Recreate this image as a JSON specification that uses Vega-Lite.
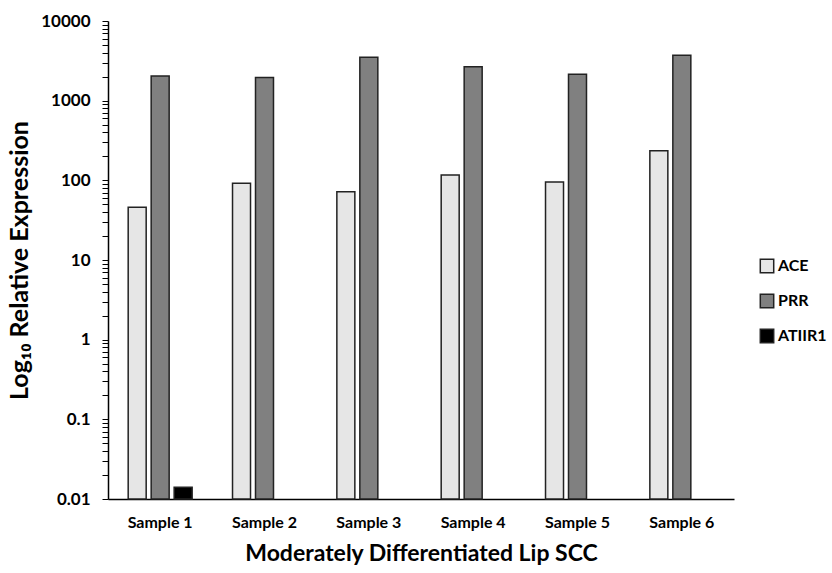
{
  "$schema": "https://vega.github.io/schema/vega-lite/v6.json",
  "width": 626,
  "height": 478,
  "autosize": {"type": "none"},
  "padding": {"left": 108, "top": 21, "right": 98, "bottom": 74},
  "background": "white",
  "config": {"view": {"stroke": null}, "font": "Lato"},
  "data": {
    "values": [
      {"sample": "Sample 1", "gene": "ACE", "value": 46},
      {"sample": "Sample 1", "gene": "PRR", "value": 2040},
      {"sample": "Sample 1", "gene": "ATIIR1", "value": 0.014},
      {"sample": "Sample 2", "gene": "ACE", "value": 92},
      {"sample": "Sample 2", "gene": "PRR", "value": 1950},
      {"sample": "Sample 3", "gene": "ACE", "value": 72},
      {"sample": "Sample 3", "gene": "PRR", "value": 3500},
      {"sample": "Sample 4", "gene": "ACE", "value": 117},
      {"sample": "Sample 4", "gene": "PRR", "value": 2670},
      {"sample": "Sample 5", "gene": "ACE", "value": 95},
      {"sample": "Sample 5", "gene": "PRR", "value": 2150},
      {"sample": "Sample 6", "gene": "ACE", "value": 235},
      {"sample": "Sample 6", "gene": "PRR", "value": 3720}
    ]
  },
  "mark": {"type": "bar", "stroke": "#222222", "strokeWidth": 1.5},
  "encoding": {
    "x": {
      "field": "sample",
      "type": "nominal",
      "scale": {"paddingInner": 0.387, "paddingOuter": 0.1935},
      "axis": {
        "title": "Moderately Differentiated Lip SCC",
        "titleFontSize": 23,
        "titleFontWeight": "bold",
        "titleColor": "#000000",
        "titlePadding": 12,
        "labelAngle": 0,
        "labelFontSize": 16,
        "labelFontWeight": "bold",
        "labelColor": "#000000",
        "labelPadding": 15,
        "ticks": false,
        "domainColor": "#000000",
        "domainWidth": 1.5
      }
    },
    "xOffset": {
      "field": "gene",
      "type": "nominal",
      "scale": {"domain": ["ACE", "PRR", "ATIIR1"], "paddingInner": 0.217, "paddingOuter": 0}
    },
    "y": {
      "field": "value",
      "type": "quantitative",
      "scale": {"type": "log", "domain": [0.01, 10000], "nice": false},
      "axis": {
        "title": "Log₁₀ Relative Expression",
        "titleFontSize": 25,
        "titleFontWeight": "bold",
        "titleColor": "#000000",
        "titlePadding": 8,
        "values": [0.01,0.02,0.03,0.04,0.05,0.06,0.07,0.08,0.09,0.1,0.2,0.3,0.4,0.5,0.6,0.7,0.8,0.9,1,2,3,4,5,6,7,8,9,10,20,30,40,50,60,70,80,90,100,200,300,400,500,600,700,800,900,1000,2000,3000,4000,5000,6000,7000,8000,9000,10000],
        "labelExpr": "indexof([0.01,0.1,1,10,100,1000,10000], datum.value) >= 0 ? '' + datum.value : ''",
        "labelFontSize": 17,
        "labelFontWeight": "bold",
        "labelColor": "#000000",
        "labelPadding": 12,
        "labelOverlap": false,
        "tickSize": 6,
        "tickColor": "#000000",
        "domainColor": "#000000",
        "domainWidth": 1.5,
        "grid": false
      }
    },
    "y2": {"datum": 0.01},
    "fill": {
      "field": "gene",
      "type": "nominal",
      "scale": {"domain": ["ACE", "PRR", "ATIIR1"], "range": ["#e6e6e6", "#808080", "#000000"]},
      "legend": {
        "title": null,
        "orient": "none",
        "legendX": 651,
        "legendY": 237,
        "symbolType": "square",
        "symbolSize": 180,
        "symbolStrokeColor": "#222222",
        "symbolStrokeWidth": 1.5,
        "labelFontSize": 16,
        "labelFontWeight": "bold",
        "labelColor": "#000000",
        "rowPadding": 15,
        "labelOffset": 3
      }
    }
  }
}
